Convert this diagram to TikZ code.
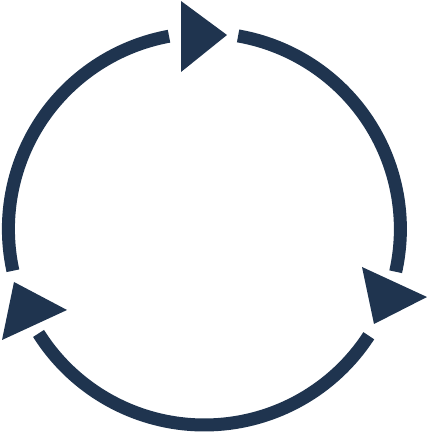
\documentclass[tikz,border=0pt]{standalone}
\definecolor{navy}{HTML}{1F344F}
\begin{document}
\begin{tikzpicture}[x=1pt,y=1pt,
  ring/.style={draw=navy,line width=13pt,line cap=butt},
  tri/.style={fill=navy,draw=none}]
\useasboundingbox (0,0) rectangle (427,433);
\coordinate (c) at (204.4,204);
\draw[ring] (c) ++(100.4:196) arc[start angle=100.4,end angle=192.3,radius=196];
\draw[ring] (c) ++(212.2:196) arc[start angle=212.2,end angle=327,radius=196];
\draw[ring] (c) ++(-12.6:196) arc[start angle=-12.6,end angle=80.1,radius=196];
\fill[tri] (181,432) -- (181,361) -- (227,398) -- cycle;
\fill[tri] (362,166) -- (374,109) -- (427,136) -- cycle;
\fill[tri] (14,151) -- (2,93) -- (67,123) -- cycle;
\end{tikzpicture}
\end{document}
